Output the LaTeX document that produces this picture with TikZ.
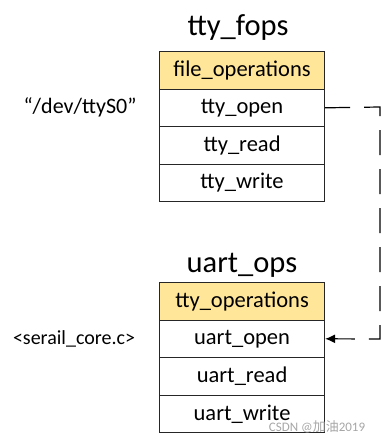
\documentclass[tikz,border=0pt]{standalone}
\usepackage{fontspec}
\setmainfont{Carlito}
\newfontfamily\cjkfont{Noto Sans CJK SC}
\usetikzlibrary{arrows.meta}
\begin{document}
\begin{tikzpicture}[x=1pt,y=-1pt,
  cell/.style={draw=black!85,line width=1.1pt,minimum width=165pt,minimum height=37.5pt,inner sep=0pt,font=\fontsize{22.5}{26}\selectfont,anchor=north west},
  headcell/.style={cell,fill=headfill},
  title/.style={font=\fontsize{30.5}{36}\selectfont,inner sep=0pt},
  link/.style={line width=1.2pt,dash pattern=on 25pt off 14pt,-{Latex[length=10pt,width=9pt]}}
]
\definecolor{headfill}{RGB}{255,230,153}
\useasboundingbox (0,0) rectangle (381,442);
\node[title] (t1) at (238,28) {tty\_fops};
\node[headcell] (a0) at (159,51) {file\_operations};
\node[cell] (a1) at (159,88.5) {tty\_open};
\node[cell] (a2) at (159,126) {tty\_read};
\node[cell] (a3) at (159,163.5) {tty\_write};
\node[font=\fontsize{22}{26}\selectfont,inner sep=0pt] (dev) at (80,107) {“/dev/ttyS0”};
\node[title] (t2) at (242,265) {uart\_ops};
\node[headcell] (b0) at (159,282) {tty\_operations};
\node[cell] (b1) at (159,319.5) {uart\_open};
\node[cell] (b2) at (159,357) {uart\_read};
\node[cell] (b3) at (159,394.5) {uart\_write};
\node[font=\fontsize{20}{24}\selectfont,inner sep=0pt] (src) at (74,339) {<serail\_core.c>};
\coordinate (c1) at (380,107);
\coordinate (c2) at (380,339);
\draw[link] (a1.east) -- (c1) -- (c2) -- (b1.east);
\node[text=black!35,font=\fontsize{13}{15}\selectfont,inner sep=0pt] (wm) at (317,427) {CSDN @{\cjkfont 加油}2019};
\end{tikzpicture}
\end{document}
